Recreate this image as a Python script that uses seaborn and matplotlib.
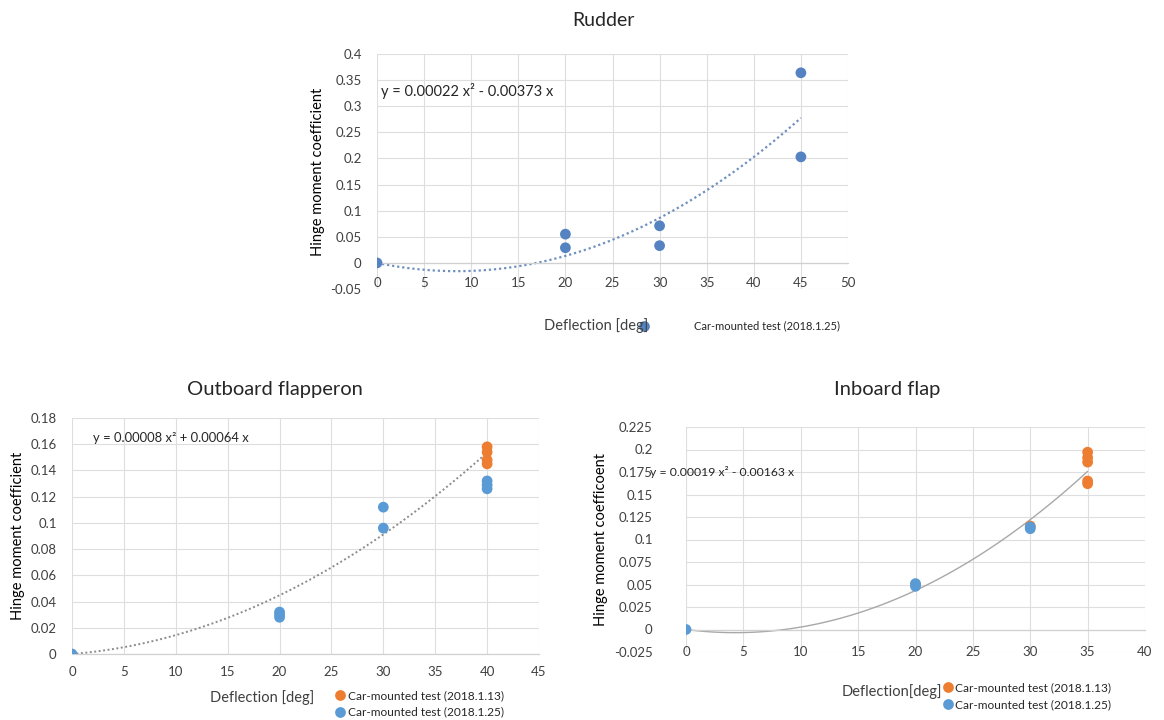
import numpy as np
import pandas as pd
import matplotlib
matplotlib.use("Agg")
import matplotlib.pyplot as plt
import seaborn as sns

# ---- data ----
BLUE = "#5B9BD5"
ORANGE = "#ED7D31"
LBL_13 = "Car-mounted test (2018.1.13)"
LBL_25 = "Car-mounted test (2018.1.25)"

# Rudder (only the 2018.1.25 test)
rudder_x = [0, 20, 20, 30, 30, 45, 45]
rudder_y = [0.0, 0.055, 0.029, 0.071, 0.033, 0.364, 0.203]
rudder_fit = [0.00022, -0.00373]   # a*x^2 + b*x

# Outboard flapperon
outb_x_13 = [40, 40, 40, 40]
outb_y_13 = [0.158, 0.154, 0.148, 0.145]
outb_x_25 = [0, 20, 20, 20, 30, 30, 40, 40, 40]
outb_y_25 = [0.0, 0.032, 0.030, 0.028, 0.112, 0.096, 0.132, 0.129, 0.126]
outb_fit = [0.00008, 0.00064]

# Inboard flap
inb_x_13 = [20, 30, 35, 35, 35, 35, 35]
inb_y_13 = [0.050, 0.115, 0.197, 0.191, 0.186, 0.165, 0.162]
inb_x_25 = [0, 20, 20, 30, 30]
inb_y_25 = [0.0, 0.051, 0.048, 0.114, 0.112]
inb_fit = [0.00019, -0.00163]

sns.set_theme(style="white")
plt.rcParams["font.family"] = ["Lato", "DejaVu Sans"]

W, H = 1164, 720
fig = plt.figure(figsize=(W / 100, H / 100), dpi=100)


def px(x, y):
    return x / W, 1 - y / H


def style_axis(ax, xticks, yticks, ylabels, xpad, ypad, ylabel):
    ax.set_xticks(xticks)
    ax.set_xticklabels([str(t) for t in xticks])
    ax.set_yticks(yticks)
    ax.set_yticklabels(ylabels)
    ax.set_xlim(xticks[0], xticks[-1])
    ax.set_ylim(yticks[0], yticks[-1])
    ax.grid(True, color="#dedede", linewidth=0.8)
    for s in ["top", "right", "left"]:
        ax.spines[s].set_visible(False)
    ax.spines["bottom"].set_position(("data", 0))
    ax.spines["bottom"].set_color("#d0d0d0")
    ax.spines["bottom"].set_linewidth(0.9)
    ax.tick_params(axis="x", length=0, pad=xpad, labelsize=9.5, colors="#404040")
    ax.tick_params(axis="y", length=0, pad=ypad, labelsize=9.5, colors="#404040")
    ax.set_xlabel("")
    ax.set_ylabel(ylabel, fontsize=10.5, color="black", labelpad=4)


def fit_curve(ax, coef, xmax, color, ls, lw):
    xs = np.linspace(0, xmax, 120)
    ys = coef[0] * xs ** 2 + coef[1] * xs
    sns.lineplot(x=xs, y=ys, ax=ax, color=color, linestyle=ls, linewidth=lw)


# ---------------- Rudder ----------------
l, b = px(377, 289)
ax1 = fig.add_axes([l, b, 471 / W, 235 / H])
fit_curve(ax1, rudder_fit, 45, "#6f8fbf", (0, (1, 1.3)), 1.6)
df1 = pd.DataFrame({"x": rudder_x, "y": rudder_y, "test": LBL_25})
sns.scatterplot(data=df1, x="x", y="y", hue="test", palette={LBL_25: "#5583C2"},
                s=60, edgecolor="none", ax=ax1, zorder=3)
r_yt = [-0.05, 0, 0.05, 0.1, 0.15, 0.2, 0.25, 0.3, 0.35, 0.4]
style_axis(ax1, list(range(0, 55, 5)), r_yt,
           ["-0.05", "0", "0.05", "0.1", "0.15", "0.2", "0.25", "0.3", "0.35", "0.4"],
           xpad=10, ypad=11, ylabel="Hinge moment coefficient")
ax1.text(0.4, 0.33, "y = 0.00022 x² - 0.00373 x", fontsize=10.5, color="#262626",
         va="center")
sns.move_legend(ax1, "center left", bbox_to_anchor=px(640, 326),
                bbox_transform=fig.transFigure, title=None, frameon=False,
                fontsize=8, handlelength=0.8, handletextpad=4.1,
                borderpad=0, borderaxespad=0)
fig.text(*px(596, 326), "Deflection [deg]", ha="center", va="center", fontsize=10.5,
         color="#404040")
fig.text(*px(603, 20), "Rudder", ha="center", va="center", fontsize=14)

# ---------------- Outboard flapperon ----------------
l, b = px(72, 654)
ax2 = fig.add_axes([l, b, 467 / W, 236 / H])
fit_curve(ax2, outb_fit, 40, "#8c8c8c", (0, (1, 1.3)), 1.4)
df2 = pd.DataFrame({"x": outb_x_13 + outb_x_25, "y": outb_y_13 + outb_y_25,
                    "test": [LBL_13] * len(outb_x_13) + [LBL_25] * len(outb_x_25)})
sns.scatterplot(data=df2, x="x", y="y", hue="test",
                palette={LBL_13: ORANGE, LBL_25: BLUE},
                s=60, edgecolor="none", ax=ax2, zorder=3)
o_yt = [0, 0.02, 0.04, 0.06, 0.08, 0.1, 0.12, 0.14, 0.16, 0.18]
style_axis(ax2, list(range(0, 50, 5)), o_yt,
           ["0", "0.02", "0.04", "0.06", "0.08", "0.1", "0.12", "0.14", "0.16", "0.18"],
           xpad=9, ypad=11, ylabel="Hinge moment coefficient")
ax2.text(2.0, 0.165, "y = 0.00008 x² + 0.00064 x", fontsize=9.4, color="#262626",
         va="center")
sns.move_legend(ax2, "center left", bbox_to_anchor=px(335, 704),
                bbox_transform=fig.transFigure, title=None, frameon=False,
                fontsize=8.6, handlelength=0.8, handletextpad=0.3, labelspacing=0.45,
                borderpad=0, borderaxespad=0)
fig.text(*px(262, 698), "Deflection [deg]", ha="center", va="center", fontsize=10.5,
         color="#404040")
fig.text(*px(275, 390), "Outboard flapperon", ha="center", va="center", fontsize=14.5)

# ---------------- Inboard flap ----------------
l, b = px(686, 652)
ax3 = fig.add_axes([l, b, 459 / W, 225 / H])
fit_curve(ax3, inb_fit, 35, "#a8a8a8", "-", 1.0)
df3 = pd.DataFrame({"x": inb_x_13 + inb_x_25, "y": inb_y_13 + inb_y_25,
                    "test": [LBL_13] * len(inb_x_13) + [LBL_25] * len(inb_x_25)})
sns.scatterplot(data=df3, x="x", y="y", hue="test",
                palette={LBL_13: ORANGE, LBL_25: BLUE},
                s=60, edgecolor="none", ax=ax3, zorder=3)
i_yt = [-0.025, 0, 0.025, 0.05, 0.075, 0.1, 0.125, 0.15, 0.175, 0.2, 0.225]
style_axis(ax3, list(range(0, 45, 5)), i_yt,
           ["-0.025", "0", "0.025", "0.05", "0.075", "0.1", "0.125", "0.15", "0.175",
            "0.2", "0.225"],
           xpad=12, ypad=24, ylabel="Hinge moment coefficoent")
ax3.text(-3.1, 0.175, "y = 0.00019 x² - 0.00163 x", fontsize=8.8, color="#262626",
         va="center", clip_on=False)
sns.move_legend(ax3, "center left", bbox_to_anchor=px(943, 696),
                bbox_transform=fig.transFigure, title=None, frameon=False,
                fontsize=8.6, handlelength=0.8, handletextpad=0.2, labelspacing=0.5,
                borderpad=0, borderaxespad=0)
fig.text(*px(892, 692), "Deflection[deg]", ha="center", va="center", fontsize=10.5,
         color="#404040")
fig.text(*px(887, 390), "Inboard flap", ha="center", va="center", fontsize=14.5)

fig.savefig("out.png", dpi=100, facecolor="white")
